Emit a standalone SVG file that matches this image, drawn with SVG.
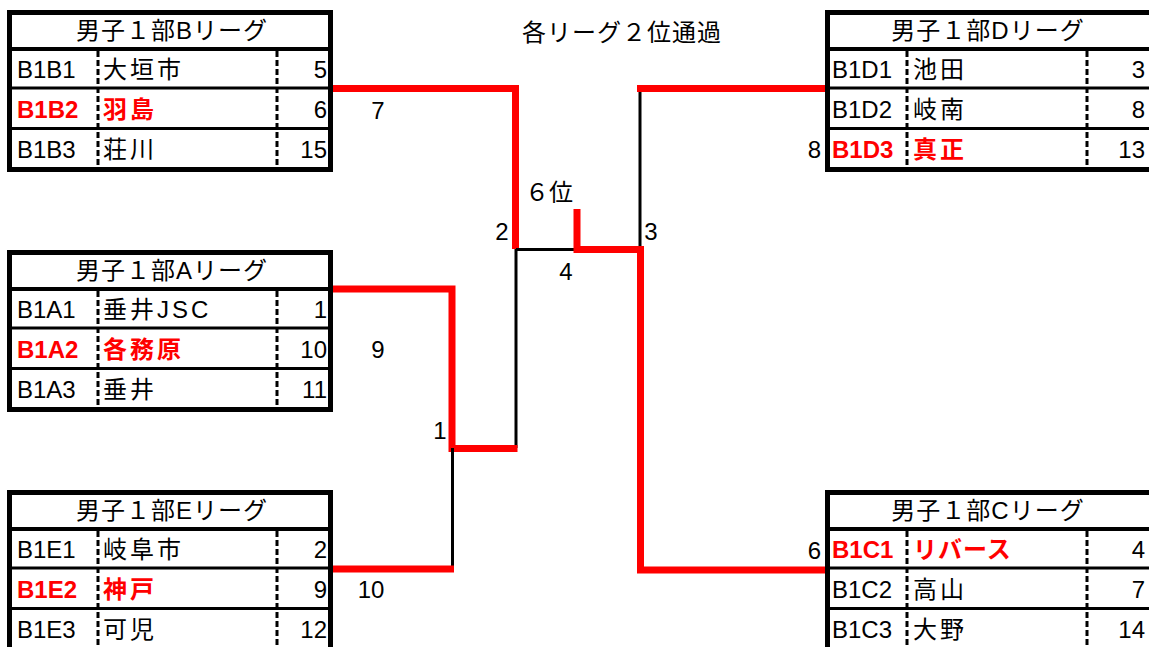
<svg xmlns="http://www.w3.org/2000/svg" xmlns:xlink="http://www.w3.org/1999/xlink" width="1149" height="647" viewBox="0 0 1149 647">
<style>
.bd{fill:none;stroke:#000;stroke-width:5}
.hl{stroke:#000;stroke-width:3}
.hh{stroke:#000;stroke-width:4}
.ds{stroke:#000;stroke-width:3;stroke-dasharray:6 3}
text{font-family:"Liberation Sans","Noto Sans CJK JP",sans-serif;font-size:24px;fill:#000}
.nm{letter-spacing:3px}
.hd{text-anchor:middle;letter-spacing:1px}
.num{text-anchor:end}
.mid{text-anchor:middle}
.win{fill:#f00;font-weight:bold}
.red{fill:none;stroke:#f00;stroke-width:7;stroke-linejoin:miter}
.blk{fill:none;stroke:#000;stroke-width:3}
</style>
<defs>
<g id="frameL">
<rect x="9.5" y="12.5" width="321" height="157" fill="#fff" class="bd"/>
<line x1="7" y1="49" x2="333" y2="49" class="hh"/>
<line x1="7" y1="88" x2="333" y2="88" class="hl"/>
<line x1="7" y1="128.5" x2="333" y2="128.5" class="hl"/>
<line x1="98" y1="51" x2="98" y2="168" class="ds"/>
<line x1="277" y1="51" x2="277" y2="168" class="ds"/>
</g>
<g id="frameR">
<rect x="827.5" y="12.5" width="330" height="157" fill="#fff" class="bd"/>
<line x1="825" y1="49" x2="1160" y2="49" class="hh"/>
<line x1="825" y1="88" x2="1160" y2="88" class="hl"/>
<line x1="825" y1="128.5" x2="1160" y2="128.5" class="hl"/>
<line x1="907" y1="51" x2="907" y2="168" class="ds"/>
<line x1="1087" y1="51" x2="1087" y2="168" class="ds"/>
</g>
</defs>
<rect width="1149" height="647" fill="#fff"/>

<g id="connectors">
<path class="red" d="M333,88.5 H515.5 V249"/>
<path class="blk" d="M516,249 V448"/>
<path class="blk" d="M516,249.5 H577"/>
<path class="red" d="M333,289 H452 V448.5 H517.5"/>
<path class="blk" d="M452.5,448 V569"/>
<path class="red" d="M333,569 H454"/>
<path class="blk" d="M640,88 V249"/>
<path class="red" d="M637,88.5 H825"/>
<path class="red" d="M577,209 V249.5 H640.5 V570 H825"/>
</g>

<g id="labels">
<text x="522" y="41" style="letter-spacing:1px">各リーグ２位通過</text>
<text x="525" y="201">６位</text>
<text x="378" y="119" class="mid">7</text>
<text x="378" y="358" class="mid">9</text>
<text x="371" y="598" class="mid">10</text>
<text x="502" y="240" class="mid">2</text>
<text x="651" y="240" class="mid">3</text>
<text x="566" y="280" class="mid">4</text>
<text x="440" y="439" class="mid">1</text>
<text x="821" y="158" class="num">8</text>
<text x="821" y="559" class="num">6</text>
</g>

<g id="leagueB">
<use xlink:href="#frameL" href="#frameL"/>
<text x="172" y="39" class="hd">男子１部Bリーグ</text>
<text x="17" y="78">B1B1</text><text x="103" y="78" class="nm">大垣市</text><text x="327" y="78" class="num">5</text>
<text x="17" y="118" class="win">B1B2</text><text x="103" y="118" class="nm win">羽島</text><text x="327" y="118" class="num">6</text>
<text x="17" y="158">B1B3</text><text x="103" y="158" class="nm">荘川</text><text x="327" y="158" class="num">15</text>
</g>

<g id="leagueA" transform="translate(0,240)">
<use xlink:href="#frameL" href="#frameL"/>
<text x="172" y="39" class="hd">男子１部Aリーグ</text>
<text x="17" y="78">B1A1</text><text x="103" y="78" class="nm">垂井JSC</text><text x="327" y="78" class="num">1</text>
<text x="17" y="118" class="win">B1A2</text><text x="103" y="118" class="nm win">各務原</text><text x="327" y="118" class="num">10</text>
<text x="17" y="158">B1A3</text><text x="103" y="158" class="nm">垂井</text><text x="327" y="158" class="num">11</text>
</g>

<g id="leagueE" transform="translate(0,480)">
<use xlink:href="#frameL" href="#frameL"/>
<text x="172" y="39" class="hd">男子１部Eリーグ</text>
<text x="17" y="78">B1E1</text><text x="103" y="78" class="nm">岐阜市</text><text x="327" y="78" class="num">2</text>
<text x="17" y="118" class="win">B1E2</text><text x="103" y="118" class="nm win">神戸</text><text x="327" y="118" class="num">9</text>
<text x="17" y="158">B1E3</text><text x="103" y="158" class="nm">可児</text><text x="327" y="158" class="num">12</text>
</g>

<g id="leagueD">
<use xlink:href="#frameR" href="#frameR"/>
<text x="988" y="39" class="hd">男子１部Dリーグ</text>
<text x="832" y="78">B1D1</text><text x="913" y="78" class="nm">池田</text><text x="1145" y="78" class="num">3</text>
<text x="832" y="118">B1D2</text><text x="913" y="118" class="nm">岐南</text><text x="1145" y="118" class="num">8</text>
<text x="832" y="158" class="win">B1D3</text><text x="913" y="158" class="nm win">真正</text><text x="1145" y="158" class="num">13</text>
</g>

<g id="leagueC" transform="translate(0,480)">
<use xlink:href="#frameR" href="#frameR"/>
<text x="988" y="39" class="hd">男子１部Cリーグ</text>
<text x="832" y="78" class="win">B1C1</text><text x="913" y="78" class="win" style="letter-spacing:1px">リバース</text><text x="1145" y="78" class="num">4</text>
<text x="832" y="118">B1C2</text><text x="913" y="118" class="nm">高山</text><text x="1145" y="118" class="num">7</text>
<text x="832" y="158">B1C3</text><text x="913" y="158" class="nm">大野</text><text x="1145" y="158" class="num">14</text>
</g>
</svg>
